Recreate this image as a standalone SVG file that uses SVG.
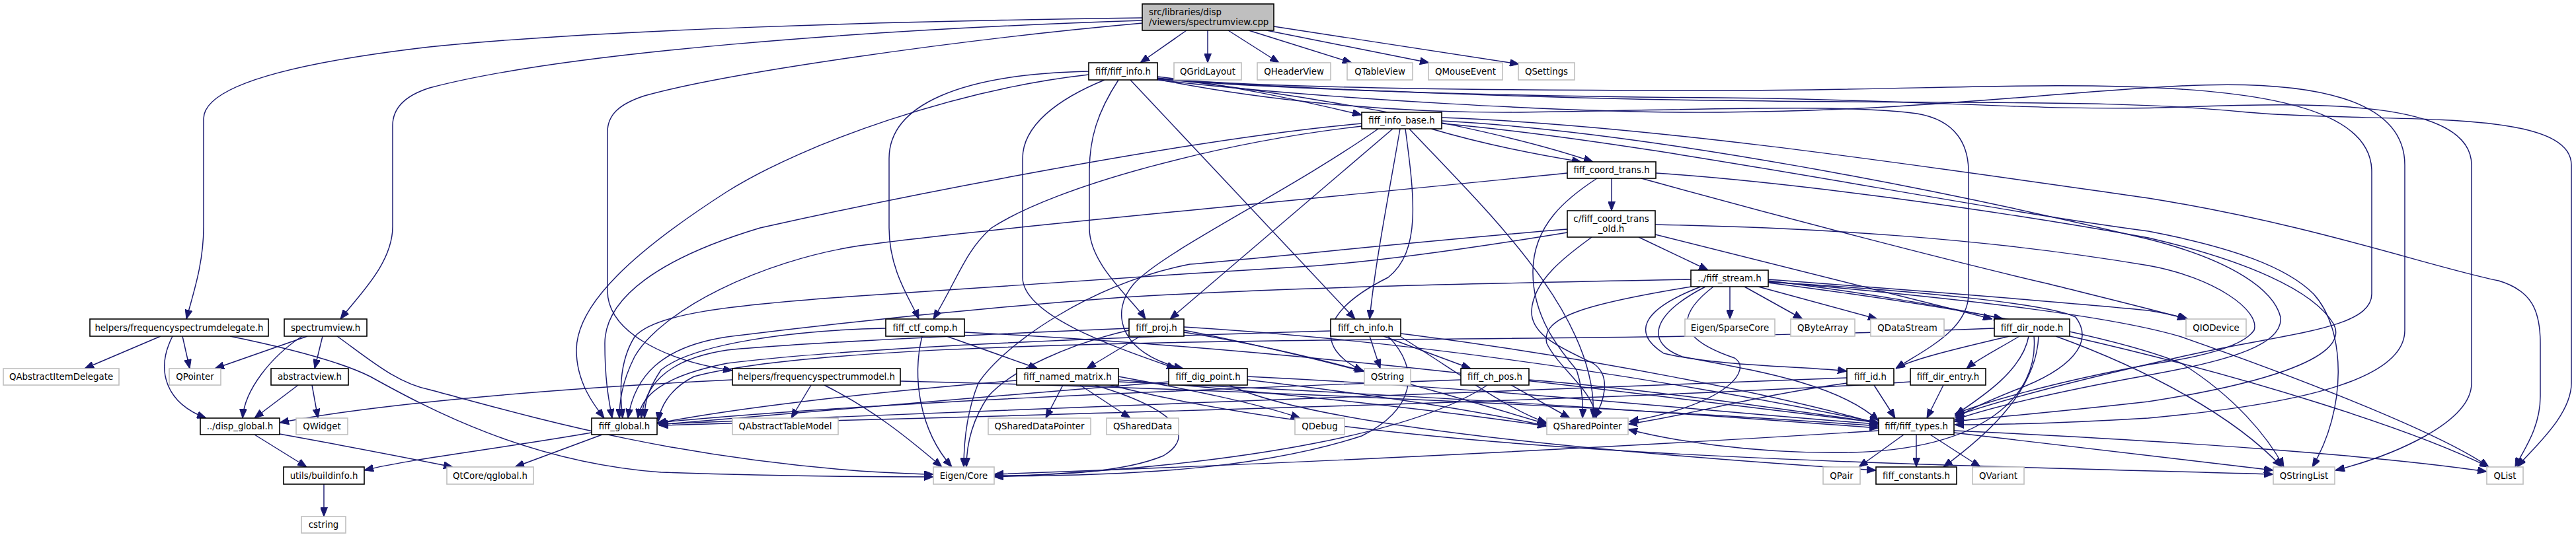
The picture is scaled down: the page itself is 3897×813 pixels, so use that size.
<svg xmlns="http://www.w3.org/2000/svg" width="3897" height="813" viewBox="0 0 3897 813">
<style>
text{font-family:"DejaVu Sans","Liberation Sans",sans-serif;font-size:13.33px;fill:#000}
.node text{text-anchor:middle}
.int rect{fill:#fff;stroke:#000;stroke-width:1.6}
.ext rect{fill:#fff;stroke:#bfbfbf;stroke-width:1.6}
.root rect{fill:#bfbfbf;stroke:#000;stroke-width:1.6}
#edges path{fill:none;stroke:#191970;stroke-width:1.45;marker-end:url(#arr)}
</style>
<defs>
<marker id="arr" viewBox="0 0 14 11" refX="14" refY="5.5" markerWidth="14" markerHeight="11" markerUnits="userSpaceOnUse" orient="auto">
<path d="M0,0 L14,5.5 L0,11 z" fill="#191970" stroke="#191970" stroke-width="1"/>
</marker>
</defs>
<rect width="3897" height="813" fill="#fff"/>
<g id="edges">
<path d="M1728,27 C1350,32 900,45 650,71 C470,92 308,125 308,180 L308,343 C308,400 292,445 282,483"/>
<path d="M1728,31 C1300,45 850,80 650,133 C612,145 594,165 594,190 L594,343 C594,400 540,450 515,483"/>
<path d="M1728,35 C1450,60 1100,110 975,145 C935,158 919,175 919,200 L919,440 C919,500 1000,545 1108,561"/>
<path d="M1795,46 L1725,95"/>
<path d="M1827,46 L1827,95"/>
<path d="M1858,46 L1935,95"/>
<path d="M1889,46 L2045,95"/>
<path d="M1916,46 L2162,95"/>
<path d="M1927,40 L2298,97"/>
<path d="M1647,108 C1450,112 1345,160 1345,240 L1345,345 C1345,410 1378,455 1390,483"/>
<path d="M1647,113 C1450,135 1220,215 1100,290 C960,380 872,460 872,530 C872,580 900,615 914,633"/>
<path d="M1671,121 C1600,150 1547,190 1547,240 L1547,420 C1547,480 1700,530 1779,558"/>
<path d="M1692,121 C1660,170 1648,210 1648,260 L1648,345 C1648,400 1710,450 1733,483"/>
<path d="M1710,121 L2050,483"/>
<path d="M1751,116 C1850,127 1950,148 2060,174"/>
<path d="M1751,118 C1950,140 2250,190 2410,245"/>
<path d="M1751,120 C1900,150 2100,172 2300,170 C2600,165 2800,158 2900,172 C2960,182 2978,220 2978,260 L2978,445 C2978,500 2910,530 2868,558"/>
<path d="M1751,119 C1950,135 2300,137 2600,137 C2900,137 3100,122 3300,135 C3500,148 3588,190 3588,260 L3588,445 C3588,500 3450,505 3300,540 C3100,585 3000,615 2957,630"/>
<path d="M1751,121 C2000,150 2400,172 2600,170 C2900,168 3100,140 3300,130 C3500,120 3638,150 3638,250 L3638,500 C3638,570 3500,610 3250,633 C3100,642 3000,643 2957,643"/>
<path d="M1751,120 C2000,140 2400,147 2600,148 C2900,150 3100,170 3300,162 C3500,155 3739,150 3739,250 L3739,580 C3739,640 3620,690 3533,712"/>
<path d="M1751,119 C2000,138 2400,150 2600,152 C3000,158 3200,150 3400,170 C3600,188 3890,160 3890,250 L3890,580 C3890,630 3830,680 3808,707"/>
<path d="M2060,187 C1800,210 1350,300 1150,345 C1000,390 915,450 915,520 C915,580 922,610 926,633"/>
<path d="M2060,191 C1850,215 1600,280 1500,345 C1460,380 1450,420 1412,483"/>
<path d="M2085,195 C1950,290 1760,380 1715,430 C1680,470 1690,535 1790,558"/>
<path d="M2107,195 L1770,483"/>
<path d="M2118,195 C2100,300 2080,400 2072,483"/>
<path d="M2126,195 C2140,300 2150,380 2100,420 C2000,470 1985,525 2062,562"/>
<path d="M2132,195 C2250,320 2420,480 2410,633"/>
<path d="M2165,195 C2250,220 2330,235 2392,245"/>
<path d="M2181,178 C2500,190 2900,250 3250,300 C3500,340 3680,405 3780,425 C3830,440 3843,470 3843,520 L3843,600 C3843,650 3815,685 3805,707"/>
<path d="M2181,183 C2500,200 2950,290 3250,362 C3380,395 3440,440 3450,480 C3455,520 3380,545 3250,568 C3100,595 3000,620 2957,636"/>
<path d="M2181,187 C2500,215 2950,310 3250,350 C3380,375 3460,405 3500,445 C3550,500 3550,620 3498,707"/>
<path d="M2438,270 L2438,319"/>
<path d="M2371,262 C2000,300 1500,345 1300,372 C1150,395 1000,470 960,540 C940,580 937,610 937,633"/>
<path d="M2416,270 C2370,300 2320,340 2319,410 C2318,480 2360,530 2385,560 C2395,590 2395,615 2394,633"/>
<path d="M2505,262 C2700,275 3000,315 3250,360 C3400,395 3500,440 3530,490 C3560,545 3400,585 3250,608 C3100,625 3000,633 2957,638"/>
<path d="M2483,270 C2700,330 2950,395 3100,430 C3200,455 3270,472 3308,483"/>
<path d="M2479,359 L2584,409"/>
<path d="M2371,347 C2150,365 1950,387 1800,400 C1650,430 1520,520 1480,580 C1460,630 1458,680 1458,707"/>
<path d="M2371,352 C2200,380 2050,400 1950,405 C1700,420 1400,440 1300,448 C1100,462 990,475 960,510 C935,550 938,600 942,633"/>
<path d="M2408,359 C2380,380 2320,420 2317,470 C2315,510 2370,530 2410,550 C2440,570 2425,610 2412,633"/>
<path d="M2504,340 C2750,345 3000,360 3250,402 C3350,420 3420,470 3410,500 C3390,530 3300,545 3250,552 C3100,580 3000,610 2957,627"/>
<path d="M2504,355 C2600,378 2800,430 3014,483"/>
<path d="M2617,434 L2617,483"/>
<path d="M2639,434 L2727,483"/>
<path d="M2660,434 L2840,483"/>
<path d="M2675,425 C2800,440 2950,465 3030,483"/>
<path d="M2675,423 C2900,440 3150,460 3250,470 C3280,475 3300,480 3310,483"/>
<path d="M2675,427 C2900,440 3100,460 3140,480 C3170,520 3130,560 3050,590 C3000,610 2975,622 2958,633"/>
<path d="M2675,428 C3000,470 3200,510 3300,550 C3380,600 3430,660 3455,707"/>
<path d="M2675,426 C3000,455 3200,480 3300,510 C3500,580 3700,660 3765,707"/>
<path d="M2573,434 C2480,470 2470,505 2517,535 C2600,555 2740,555 2794,562"/>
<path d="M2558,423 C2200,430 1950,435 1700,450 C1500,465 1300,485 1100,510 C1000,525 960,570 950,633"/>
<path d="M2559,434 C2400,460 2330,480 2340,520 C2360,560 2410,590 2415,633"/>
<path d="M2592,434 C2535,478 2535,512 2624,542 C2650,558 2620,610 2465,638"/>
<path d="M2580,434 C2495,478 2490,520 2545,540 C2650,560 2780,580 2842,637"/>
<path d="M3040,509 C2950,530 2890,545 2868,558"/>
<path d="M3055,509 C3020,530 2990,545 2975,558"/>
<path d="M3069,509 C3060,560 3000,600 2958,628"/>
<path d="M3084,509 C3080,600 2990,670 2940,707"/>
<path d="M3131,509 C3400,570 3650,650 3765,707"/>
<path d="M3110,509 C3250,560 3380,630 3452,707"/>
<path d="M3017,497 C2700,510 2300,512 2000,515 C1600,520 1200,530 1050,570 C1010,590 998,620 996,638"/>
<path d="M3077,509 C3085,600 3000,680 2800,685 C2650,688 2520,665 2463,650"/>
<path d="M2835,583 L2867,633"/>
<path d="M2794,572 C2500,585 1500,620 996,642"/>
<path d="M2794,580 C2650,600 2550,630 2463,642"/>
<path d="M2940,583 L2915,633"/>
<path d="M2890,578 C2500,605 1500,630 997,644"/>
<path d="M2880,658 L2812,707"/>
<path d="M2899,658 L2899,707"/>
<path d="M2920,658 L2996,707"/>
<path d="M2956,652 C3300,668 3600,690 3762,714"/>
<path d="M2956,655 C3150,678 3350,700 3439,712"/>
<path d="M2842,652 C2400,680 2000,700 1504,718"/>
<path d="M2072,509 L2088,558"/>
<path d="M2093,509 L2225,558"/>
<path d="M2013,501 C1700,510 1300,525 1100,550 C1000,570 970,600 965,633"/>
<path d="M2119,505 C2400,540 2700,600 2842,642"/>
<path d="M2119,510 C2200,560 2280,620 2340,640"/>
<path d="M2100,509 C2150,560 2140,620 2060,660 C1900,712 1700,720 1504,721"/>
<path d="M2286,583 L2375,633"/>
<path d="M2210,575 C1800,590 1300,610 994,640"/>
<path d="M2313,575 C2500,590 2700,620 2842,640"/>
<path d="M2250,583 C2150,650 1900,705 1504,722"/>
<path d="M1725,509 L1644,558"/>
<path d="M1708,500 C1620,520 1530,560 1495,600 C1468,640 1462,680 1462,707"/>
<path d="M1708,497 C1400,510 1200,520 1100,530 C1000,545 975,590 970,633"/>
<path d="M1791,495 C2200,520 2600,590 2842,640"/>
<path d="M1791,500 C2000,540 2200,600 2340,642"/>
<path d="M1791,503 C1900,520 2000,545 2064,562"/>
<path d="M1395,509 C1380,570 1390,650 1440,707"/>
<path d="M1432,509 L1570,558"/>
<path d="M1340,497 C1200,500 1050,520 1000,560 C980,590 975,610 975,633"/>
<path d="M1459,503 C2000,530 2500,600 2842,640"/>
<path d="M1608,583 L1582,633"/>
<path d="M1634,583 L1710,633"/>
<path d="M1538,576 C1300,595 1100,620 994,641"/>
<path d="M1656,583 C1780,620 1810,660 1760,690 C1700,715 1600,720 1504,720"/>
<path d="M1692,570 C1800,590 1900,610 1967,633"/>
<path d="M1692,575 C2000,600 2200,625 2340,645"/>
<path d="M1692,578 C2200,600 2600,630 2842,648"/>
<path d="M1680,583 C2100,690 2800,700 3439,718"/>
<path d="M1768,578 C1500,600 1200,625 996,643"/>
<path d="M1887,570 C2300,590 2600,625 2842,642"/>
<path d="M1887,575 C2100,600 2250,625 2340,645"/>
<path d="M1860,583 C2000,650 2500,690 2838,712"/>
<path d="M1108,575 C800,590 550,615 423,640"/>
<path d="M1227,583 L1197,633"/>
<path d="M1247,583 C1320,620 1370,660 1425,707"/>
<path d="M1362,577 C1900,590 2500,620 2842,645"/>
<path d="M465,509 L325,558"/>
<path d="M457,509 C410,540 370,590 367,633"/>
<path d="M488,509 L476,558"/>
<path d="M510,509 C560,545 600,580 650,590 C800,630 1000,690 1300,713 C1350,716 1390,718 1412,718"/>
<path d="M243,509 L128,558"/>
<path d="M276,509 L287,558"/>
<path d="M261,509 C235,560 250,610 312,633"/>
<path d="M348,509 C450,530 520,550 560,570 C650,620 800,700 1000,715 C1200,722 1350,722 1412,722"/>
<path d="M451,583 L385,633"/>
<path d="M472,583 L481,633"/>
<path d="M385,658 L464,707"/>
<path d="M423,657 C550,680 650,700 685,707"/>
<path d="M895,655 C750,680 620,695 551,712"/>
<path d="M911,658 L779,707"/>
<path d="M490,733 L490,782"/>
</g>
<g id="n_root" class="node root"><rect x="1728" y="6" width="199" height="40"/><text x="1738" y="22.5" style="text-anchor:start">src/libraries/disp</text><text x="1738" y="37.5" style="text-anchor:start">/viewers/spectrumview.cpp</text></g>
<g id="n_fiff_info" class="node int"><rect x="1647" y="95" width="104" height="26"/><text x="1699" y="112.5">fiff/fiff_info.h</text></g>
<g id="n_qgridlayout" class="node ext"><rect x="1776" y="95" width="102" height="26"/><text x="1827" y="112.5">QGridLayout</text></g>
<g id="n_qheaderview" class="node ext"><rect x="1902" y="95" width="111" height="26"/><text x="1957.5" y="112.5">QHeaderView</text></g>
<g id="n_qtableview" class="node ext"><rect x="2038" y="95" width="99" height="26"/><text x="2087.5" y="112.5">QTableView</text></g>
<g id="n_qmouseevent" class="node ext"><rect x="2161" y="95" width="112" height="26"/><text x="2217" y="112.5">QMouseEvent</text></g>
<g id="n_qsettings" class="node ext"><rect x="2297" y="95" width="85" height="26"/><text x="2339.5" y="112.5">QSettings</text></g>
<g id="n_fiff_info_base" class="node int"><rect x="2060" y="170" width="121" height="25"/><text x="2120.5" y="187">fiff_info_base.h</text></g>
<g id="n_fiff_coord_trans" class="node int"><rect x="2371" y="245" width="134" height="25"/><text x="2438" y="262">fiff_coord_trans.h</text></g>
<g id="n_fiff_coord_trans_old" class="node int"><rect x="2371" y="319" width="133" height="40"/><text x="2437.5" y="335.5">c/fiff_coord_trans</text><text x="2437.5" y="350.5">_old.h</text></g>
<g id="n_fiff_stream" class="node int"><rect x="2558" y="409" width="117" height="25"/><text x="2616.5" y="426">../fiff_stream.h</text></g>
<g id="n_freqdelegate" class="node int"><rect x="136" y="483" width="270" height="26"/><text x="271" y="500.5">helpers/frequencyspectrumdelegate.h</text></g>
<g id="n_spectrumview_h" class="node int"><rect x="430" y="483" width="125" height="26"/><text x="492.5" y="500.5">spectrumview.h</text></g>
<g id="n_fiff_ctf_comp" class="node int"><rect x="1340" y="483" width="119" height="26"/><text x="1399.5" y="500.5">fiff_ctf_comp.h</text></g>
<g id="n_fiff_proj" class="node int"><rect x="1708" y="483" width="83" height="26"/><text x="1749.5" y="500.5">fiff_proj.h</text></g>
<g id="n_fiff_ch_info" class="node int"><rect x="2013" y="483" width="106" height="26"/><text x="2066" y="500.5">fiff_ch_info.h</text></g>
<g id="n_eigen_sparse" class="node ext"><rect x="2549" y="483" width="136" height="26"/><text x="2617" y="500.5">Eigen/SparseCore</text></g>
<g id="n_qbytearray" class="node ext"><rect x="2709" y="483" width="97" height="26"/><text x="2757.5" y="500.5">QByteArray</text></g>
<g id="n_qdatastream" class="node ext"><rect x="2830" y="483" width="111" height="26"/><text x="2885.5" y="500.5">QDataStream</text></g>
<g id="n_fiff_dir_node" class="node int"><rect x="3017" y="483" width="114" height="26"/><text x="3074" y="500.5">fiff_dir_node.h</text></g>
<g id="n_qiodevice" class="node ext"><rect x="3307" y="483" width="91" height="26"/><text x="3352.5" y="500.5">QIODevice</text></g>
<g id="n_qabstractitemdelegate" class="node ext"><rect x="5" y="558" width="175" height="25"/><text x="92.5" y="575">QAbstractItemDelegate</text></g>
<g id="n_qpointer" class="node ext"><rect x="256" y="558" width="78" height="25"/><text x="295" y="575">QPointer</text></g>
<g id="n_abstractview" class="node int"><rect x="410" y="558" width="117" height="25"/><text x="468.5" y="575">abstractview.h</text></g>
<g id="n_freqmodel" class="node int"><rect x="1108" y="558" width="254" height="25"/><text x="1235" y="575">helpers/frequencyspectrummodel.h</text></g>
<g id="n_fiff_named_matrix" class="node int"><rect x="1538" y="558" width="154" height="25"/><text x="1615" y="575">fiff_named_matrix.h</text></g>
<g id="n_fiff_dig_point" class="node int"><rect x="1768" y="558" width="119" height="25"/><text x="1827.5" y="575">fiff_dig_point.h</text></g>
<g id="n_qstring" class="node ext"><rect x="2064" y="558" width="70" height="25"/><text x="2099" y="575">QString</text></g>
<g id="n_fiff_ch_pos" class="node int"><rect x="2210" y="558" width="103" height="25"/><text x="2261.5" y="575">fiff_ch_pos.h</text></g>
<g id="n_fiff_id" class="node int"><rect x="2794" y="558" width="71" height="25"/><text x="2829.5" y="575">fiff_id.h</text></g>
<g id="n_fiff_dir_entry" class="node int"><rect x="2890" y="558" width="114" height="25"/><text x="2947" y="575">fiff_dir_entry.h</text></g>
<g id="n_disp_global" class="node int"><rect x="303" y="633" width="120" height="25"/><text x="363" y="650">../disp_global.h</text></g>
<g id="n_qwidget" class="node ext"><rect x="448" y="633" width="78" height="25"/><text x="487" y="650">QWidget</text></g>
<g id="n_fiff_global" class="node int"><rect x="895" y="633" width="99" height="25"/><text x="944.5" y="650">fiff_global.h</text></g>
<g id="n_qabstracttablemodel" class="node ext"><rect x="1108" y="633" width="160" height="25"/><text x="1188" y="650">QAbstractTableModel</text></g>
<g id="n_qshareddatapointer" class="node ext"><rect x="1495" y="633" width="155" height="25"/><text x="1572.5" y="650">QSharedDataPointer</text></g>
<g id="n_qshareddata" class="node ext"><rect x="1674" y="633" width="109" height="25"/><text x="1728.5" y="650">QSharedData</text></g>
<g id="n_qdebug" class="node ext"><rect x="1959" y="633" width="75" height="25"/><text x="1996.5" y="650">QDebug</text></g>
<g id="n_qsharedpointer" class="node ext"><rect x="2340" y="633" width="123" height="25"/><text x="2401.5" y="650">QSharedPointer</text></g>
<g id="n_fiff_types" class="node int"><rect x="2842" y="633" width="114" height="25"/><text x="2899" y="650">fiff/fiff_types.h</text></g>
<g id="n_buildinfo" class="node int"><rect x="429" y="707" width="122" height="26"/><text x="490" y="724.5">utils/buildinfo.h</text></g>
<g id="n_qglobal" class="node ext"><rect x="676" y="707" width="131" height="26"/><text x="741.5" y="724.5">QtCore/qglobal.h</text></g>
<g id="n_eigen_core" class="node ext"><rect x="1412" y="707" width="92" height="26"/><text x="1458" y="724.5">Eigen/Core</text></g>
<g id="n_qpair" class="node ext"><rect x="2758" y="707" width="56" height="26"/><text x="2786" y="724.5">QPair</text></g>
<g id="n_fiff_constants" class="node int"><rect x="2838" y="707" width="122" height="26"/><text x="2899" y="724.5">fiff_constants.h</text></g>
<g id="n_qvariant" class="node ext"><rect x="2984" y="707" width="78" height="26"/><text x="3023" y="724.5">QVariant</text></g>
<g id="n_qstringlist" class="node ext"><rect x="3439" y="707" width="93" height="26"/><text x="3485.5" y="724.5">QStringList</text></g>
<g id="n_qlist" class="node ext"><rect x="3762" y="707" width="55" height="26"/><text x="3789.5" y="724.5">QList</text></g>
<g id="n_cstring" class="node ext"><rect x="456" y="782" width="67" height="25"/><text x="489.5" y="799">cstring</text></g>
</svg>
